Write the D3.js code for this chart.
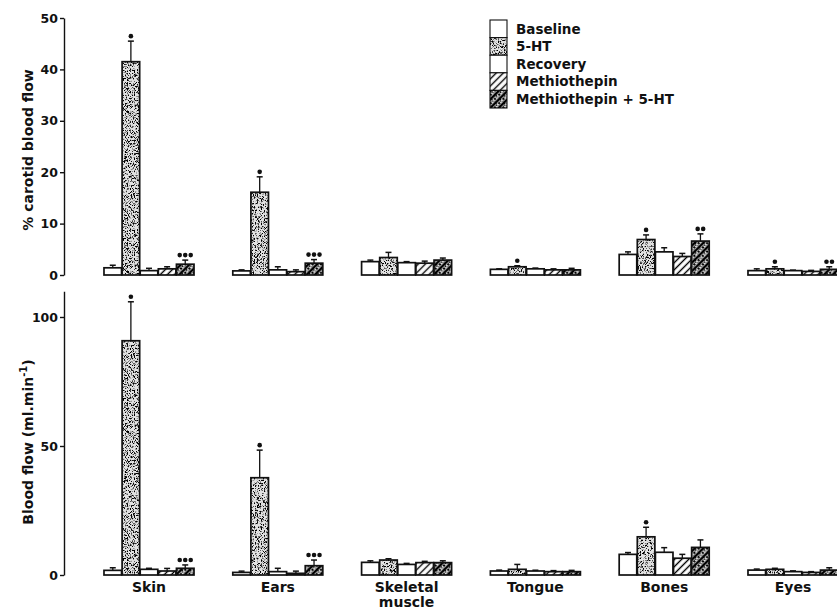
<!DOCTYPE html>
<html>
<head>
<meta charset="utf-8">
<script src="https://cdn.jsdelivr.net/npm/d3@7"></script>
<style>
  html, body { margin: 0; padding: 0; background: #fff; }
  svg text { font-family: "DejaVu Sans", sans-serif; font-weight: bold; fill: #111; }
</style>
</head>
<body>
<svg id="chart" width="837" height="610"></svg>
<script>
// Vascular beds and treatment periods
const categories = ["Skin", "Ears", "Skeletal muscle", "Tongue", "Bones", "Eyes"];
const series = ["Baseline", "5-HT", "Recovery", "Methiothepin", "Methiothepin + 5-HT"];

// Upper panel: % of carotid blood flow (mean and SEM)
const pctBaseline     = [1.4, 0.8, 2.6, 1.1, 4.0, 0.85];
const pct5HT          = [41.5, 16.1, 3.4, 1.6, 6.9, 1.2];
const pctRecovery     = [0.85, 1.0, 2.4, 1.2, 4.5, 0.85];
const pctMethio       = [1.2, 0.65, 2.3, 1.0, 3.6, 0.7];
const pctMethio5HT    = [2.1, 2.3, 2.9, 1.0, 6.6, 1.1];
const pctBaselineErr  = [0.5, 0.2, 0.3, 0.1, 0.5, 0.35];
const pct5HTErr       = [4.0, 3.0, 1.0, 0.2, 0.9, 0.4];
const pctRecoveryErr  = [0.45, 0.6, 0.2, 0.15, 0.8, 0.1];
const pctMethioErr    = [0.4, 0.35, 0.4, 0.2, 0.6, 0.2];
const pctMethio5HTErr = [0.8, 0.7, 0.4, 0.3, 1.4, 0.5];
const pctSig5HT       = [1, 1, 0, 1, 1, 1];
const pctSigMethio5HT = [3, 3, 0, 0, 2, 2];
const pctTicks        = [0, 10, 20, 30, 40, 50];

// Lower panel: absolute blood flow, ml/min (mean and SEM)
const flowBaseline     = [1.8, 1.0, 4.9, 1.55, 8.0, 1.9];
const flow5HT          = [90.8, 37.7, 5.8, 2.2, 14.8, 2.2];
const flowRecovery     = [2.2, 1.3, 4.1, 1.55, 8.8, 1.3];
const flowMethio       = [1.55, 0.65, 4.8, 1.3, 6.5, 1.0];
const flowMethio5HT    = [2.6, 3.6, 4.8, 1.3, 10.7, 1.9];
const flowBaselineErr  = [1.0, 0.5, 0.6, 0.35, 0.7, 0.4];
const flow5HTErr       = [15.1, 10.7, 0.5, 1.9, 3.7, 0.4];
const flowRecoveryErr  = [0.4, 1.3, 0.4, 0.3, 1.8, 0.3];
const flowMethioErr    = [1.0, 0.85, 0.5, 0.4, 1.5, 0.3];
const flowMethio5HTErr = [1.3, 2.2, 0.7, 0.5, 2.9, 0.9];
const flowSig5HT       = [1, 1, 0, 0, 1, 0];
const flowSigMethio5HT = [3, 3, 0, 0, 0, 0];
const flowTicks        = [0, 50, 100];

const svg = d3.select("#chart");
const defs = svg.append("defs");

// Fine speckled texture used for the 5-HT bars
const speck = defs.append("filter").attr("id", "speck")
  .attr("x", 0).attr("y", 0).attr("width", "100%").attr("height", "100%");
speck.append("feTurbulence").attr("type", "fractalNoise")
  .attr("baseFrequency", "1.3 0.6").attr("numOctaves", 2).attr("seed", 11).attr("result", "n");
speck.append("feColorMatrix").attr("in", "n").attr("type", "matrix")
  .attr("values", "0 0 0 0 0  0 0 0 0 0  0 0 0 0 0  6 0 0 0 -3.0").attr("result", "a");
speck.append("feComposite").attr("in", "a").attr("in2", "SourceGraphic").attr("operator", "in");

const stip = defs.append("pattern").attr("id", "stipple")
  .attr("patternUnits", "userSpaceOnUse").attr("width", 160).attr("height", 160);
stip.append("rect").attr("width", 160).attr("height", 160).attr("fill", "#e2e2e2");
stip.append("rect").attr("width", 160).attr("height", 160).attr("fill", "#222").attr("filter", "url(#speck)");

// Diagonal hatching for the methiothepin periods
const hatch = defs.append("pattern").attr("id", "hatch")
  .attr("patternUnits", "userSpaceOnUse").attr("width", 5).attr("height", 5)
  .attr("patternTransform", "rotate(45)");
hatch.append("rect").attr("width", 5).attr("height", 5).attr("fill", "#fff");
hatch.append("line").attr("x1", 2.5).attr("x2", 2.5).attr("y1", 0).attr("y2", 5)
  .attr("stroke", "#000").attr("stroke-width", 1.4);

const hatchDark = defs.append("pattern").attr("id", "hatchDark")
  .attr("patternUnits", "userSpaceOnUse").attr("width", 6).attr("height", 6)
  .attr("patternTransform", "rotate(45)");
hatchDark.append("rect").attr("width", 6).attr("height", 6).attr("fill", "url(#stipple)");
hatchDark.append("line").attr("x1", 3).attr("x2", 3).attr("y1", 0).attr("y2", 6)
  .attr("stroke", "#000").attr("stroke-width", 2.6);

const fills = {
  "Baseline": "#fff",
  "5-HT": "url(#stipple)",
  "Recovery": "#fff",
  "Methiothepin": "url(#hatch)",
  "Methiothepin + 5-HT": "url(#hatchDark)"
};

// Group and bar positions
const x0 = d3.scaleBand().domain(categories).range([84.6, 857.4]).paddingInner(0.301).paddingOuter(0.1505);
const x1 = d3.scaleBand().domain(series).range([0, x0.bandwidth()]).paddingInner(0.03);

const axisX = 64;

function drawPanel(cfg) {
  const y = d3.scaleLinear().domain(cfg.domain).range(cfg.range);
  const g = svg.append("g");

  // y axis
  const ax = g.append("g").attr("transform", `translate(${axisX},0)`)
    .call(d3.axisLeft(y).tickValues(cfg.ticks).tickSize(4).tickPadding(2).tickSizeOuter(0));
  ax.select(".domain").attr("stroke", "#111").attr("stroke-width", 1.4);
  ax.selectAll(".tick line").attr("stroke", "#111").attr("stroke-width", 1.4);
  ax.selectAll(".tick text").style("font-size", "12.5px").attr("fill", "#111");

  const rows = [];
  categories.forEach((c, i) => {
    series.forEach((s, j) => {
      rows.push({ cat: c, ser: s, v: cfg.values[j][i], e: cfg.errors[j][i], sig: cfg.sig[j] ? cfg.sig[j][i] : 0 });
    });
  });

  const bx = d => x0(d.cat) + x1(d.ser);
  const bw = x1.bandwidth();

  g.selectAll("rect.bar").data(rows).join("rect").attr("class", "bar")
    .attr("x", bx).attr("y", d => y(d.v))
    .attr("width", bw).attr("height", d => y(0) - y(d.v))
    .attr("fill", d => fills[d.ser])
    .attr("stroke", "#111").attr("stroke-width", 1.7);

  // Upward SEM bars
  g.selectAll("line.err").data(rows).join("line").attr("class", "err")
    .attr("x1", d => bx(d) + bw / 2).attr("x2", d => bx(d) + bw / 2)
    .attr("y1", d => y(d.v)).attr("y2", d => y(d.v + d.e))
    .attr("stroke", "#111").attr("stroke-width", 1.3);
  g.selectAll("line.cap").data(rows).join("line").attr("class", "cap")
    .attr("x1", d => bx(d) + bw / 2 - 3).attr("x2", d => bx(d) + bw / 2 + 3)
    .attr("y1", d => y(d.v + d.e)).attr("y2", d => y(d.v + d.e))
    .attr("stroke", "#111").attr("stroke-width", 1.5);

  // Significance markers above the error bars
  const dots = [];
  rows.filter(d => d.sig > 0).forEach(d => {
    for (let k = 0; k < d.sig; k++) {
      dots.push({ cx: bx(d) + bw / 2 + (k - (d.sig - 1) / 2) * 5.5, cy: y(d.v + d.e) - 5 });
    }
  });
  g.selectAll("circle.sig").data(dots).join("circle").attr("class", "sig")
    .attr("cx", d => d.cx).attr("cy", d => d.cy).attr("r", 2.3).attr("fill", "#111");

  // y-axis title
  const t = g.append("text")
    .attr("transform", `translate(33,${cfg.titleY}) rotate(-90)`)
    .attr("text-anchor", "middle").style("font-size", "14px");
  cfg.title(t);
  return y;
}

drawPanel({
  domain: [0, 50], range: [275, 18], ticks: pctTicks,
  values: [pctBaseline, pct5HT, pctRecovery, pctMethio, pctMethio5HT],
  errors: [pctBaselineErr, pct5HTErr, pctRecoveryErr, pctMethioErr, pctMethio5HTErr],
  sig: [null, pctSig5HT, null, null, pctSigMethio5HT],
  titleY: 150,
  title: t => t.text("% carotid blood flow")
});

drawPanel({
  domain: [0, 110], range: [575, 291.2], ticks: flowTicks,
  values: [flowBaseline, flow5HT, flowRecovery, flowMethio, flowMethio5HT],
  errors: [flowBaselineErr, flow5HTErr, flowRecoveryErr, flowMethioErr, flowMethio5HTErr],
  sig: [null, flowSig5HT, null, null, flowSigMethio5HT],
  titleY: 442,
  title: t => {
    t.append("tspan").text("Blood flow (ml.min");
    t.append("tspan").attr("dy", -6).style("font-size", "10px").text("-1");
    t.append("tspan").attr("dy", 6).text(")");
  }
});

// Category labels under the lower panel
const labels = svg.append("g");
categories.forEach(c => {
  const words = c === "Skeletal muscle" ? ["Skeletal", "muscle"] : [c];
  const cx = x0(c) + x0.bandwidth() / 2;
  words.forEach((w, k) => {
    labels.append("text").attr("x", cx).attr("y", 592 + k * 15)
      .attr("text-anchor", "middle").style("font-size", "14px").text(w);
  });
});

// Legend
const legend = svg.append("g");
series.forEach((s, i) => {
  const yy = 20 + i * 17.6;
  legend.append("rect").attr("x", 490).attr("y", yy).attr("width", 17).attr("height", 17.6)
    .attr("fill", fills[s]).attr("stroke", "#111").attr("stroke-width", 1.1);
  legend.append("text").attr("x", 516).attr("y", yy + 13.5)
    .style("font-size", "13.5px").text(s);
});
</script>
</body>
</html>
